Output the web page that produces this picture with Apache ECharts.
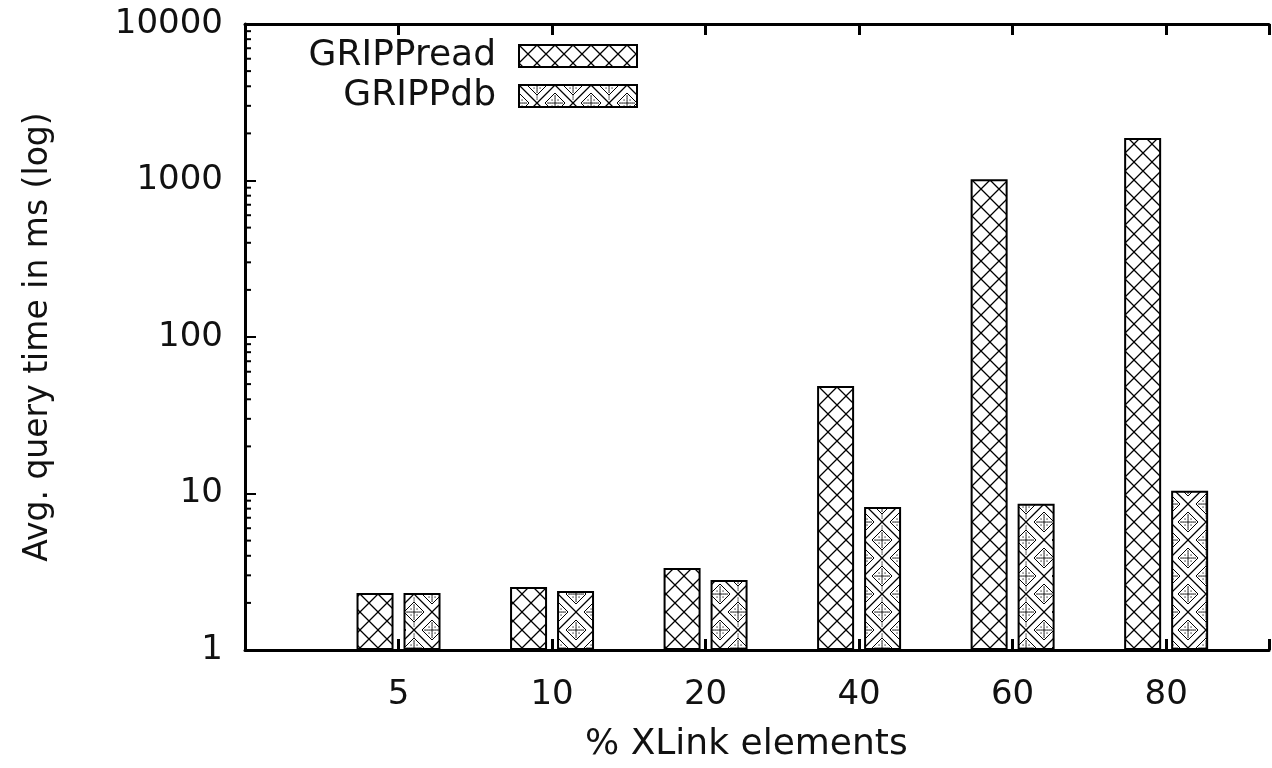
<!DOCTYPE html>
<html>
<head>
<meta charset="utf-8">
<script src="https://cdn.jsdelivr.net/npm/echarts@6/dist/echarts.min.js"></script>
<style>
html,body{margin:0;padding:0;background:#fff;}
#main{width:1272px;height:768px;}
</style>
</head>
<body>
<div id="main"></div>
<script>
const categories = ['5', '10', '20', '40', '60', '80'];
const gripRead = [2.31, 2.53, 3.34, 48.6, 1020, 1870];
const gripDb = [2.31, 2.38, 2.80, 8.2, 8.6, 10.4];
const yTickLabels = ['1', '10', '100', '1000', '10000'];
const minorTicks = [2,3,4,5,6,7,8,9,20,30,40,50,60,70,80,90,200,300,400,500,600,700,800,900,2000,3000,4000,5000,6000,7000,8000,9000];

const FONT = '"DejaVu Sans", "Liberation Sans", Arial, sans-serif';
const FS = 34;

function patternRead() {
  const s = 18;
  const c = document.createElement('canvas');
  c.width = s; c.height = s;
  const g = c.getContext('2d');
  g.fillStyle = '#fff'; g.fillRect(0, 0, s, s);
  g.strokeStyle = '#000'; g.lineWidth = 1.3;
  g.beginPath();
  g.moveTo(-2, -2); g.lineTo(s + 2, s + 2);
  g.moveTo(s + 2, -2); g.lineTo(-2, s + 2);
  g.stroke();
  return c;
}
function patternDb() {
  const s = 36;
  const c = document.createElement('canvas');
  c.width = s; c.height = s;
  const g = c.getContext('2d');
  g.fillStyle = '#fff'; g.fillRect(0, 0, s, s);
  g.strokeStyle = '#000'; g.fillStyle = '#000'; g.lineWidth = 1.3;
  g.beginPath();
  g.moveTo(-2, -2); g.lineTo(s + 2, s + 2);
  g.moveTo(s + 2, -2); g.lineTo(-2, s + 2);
  g.stroke();
  const centers = [[s/2, 0], [0, s/2], [s, s/2], [s/2, s]];
  centers.forEach(([cx, cy]) => {
    const r = 10;
    g.lineWidth = 1;
    g.beginPath();
    g.moveTo(cx, cy - r); g.lineTo(cx + r, cy); g.lineTo(cx, cy + r); g.lineTo(cx - r, cy); g.closePath();
    g.stroke();
    for (let k = -7; k <= 7; k += 2) {
      g.fillRect(cx + k - 0.6, cy - 0.6, 1.3, 1.3);
      g.fillRect(cx - 0.6, cy + k - 0.6, 1.3, 1.3);
    }
    for (let a = -6; a <= 6; a += 3) {
      for (let b = -6; b <= 6; b += 3) {
        if (Math.abs(a) + Math.abs(b) < 8 && a !== 0 && b !== 0) g.fillRect(cx + a - 0.5, cy + b - 0.5, 1.1, 1.1);
      }
    }
  });
  for (let k = 4; k <= 8; k += 2) {
    g.fillRect(s/2 - 0.5, s/2 - k - 0.5, 1.1, 1.1);
    g.fillRect(s/2 - 0.5, s/2 + k - 0.5, 1.1, 1.1);
  }
  return c;
}

const chart = echarts.init(document.getElementById('main'), null, {renderer: 'canvas'});
const axisLineStyle = {color: '#000', width: 3};
const option = {
  animation: false,
  backgroundColor: '#fff',
  title: {
    text: '% XLink elements',
    left: 585, top: 727, padding: 0,
    textStyle: {fontSize: 36, fontWeight: 'normal', color: '#111', fontFamily: FONT}
  },
  legend: [
    {data: ['GRIPPread'], right: 629, top: 33, align: 'right', orient: 'vertical',
     itemWidth: 118, itemHeight: 22, icon: 'rect', selectedMode: false,
     textStyle: {fontSize: 36, color: '#111', fontFamily: FONT, padding: [0, 18, 0, 0]}},
    {data: ['GRIPPdb'], right: 629, top: 73, align: 'right', orient: 'vertical',
     itemWidth: 118, itemHeight: 22, icon: 'rect', selectedMode: false,
     textStyle: {fontSize: 36, color: '#111', fontFamily: FONT, padding: [0, 18, 0, 0]}}
  ],
  grid: {left: 245, top: 24, right: 0, height: 626, containLabel: false},
  xAxis: [
    {type: 'value', min: 0, max: 6.67, interval: 1, position: 'bottom',
     axisLine: {lineStyle: axisLineStyle},
     axisTick: {inside: true, length: 11, lineStyle: {color: '#000', width: 3}},
     axisLabel: {formatter: v => (v >= 1 && v <= categories.length) ? categories[v - 1] : '',
                 fontSize: FS, color: '#111', margin: 28, fontFamily: FONT},
     splitLine: {show: false}},
    {type: 'value', min: 0, max: 6.67, interval: 1, position: 'top',
     axisLine: {lineStyle: axisLineStyle},
     axisTick: {inside: true, length: 11, lineStyle: {color: '#000', width: 3}},
     axisLabel: {show: false},
     splitLine: {show: false}}
  ],
  yAxis: {
    type: 'log', logBase: 10, min: 1, max: 10000,
    axisLine: {show: true, lineStyle: axisLineStyle},
    axisTick: {show: true, inside: true, length: 11, lineStyle: {color: '#000', width: 2}},
    axisLabel: {fontSize: FS, color: '#111', margin: 22, fontFamily: FONT,
                formatter: v => { const i = Math.round(Math.log10(v)); return yTickLabels[i] !== undefined ? yTickLabels[i] : ''; }},
    splitLine: {show: false},
    name: 'Avg. query time in ms (log)', nameLocation: 'middle', nameGap: 190,
    nameTextStyle: {fontSize: 33, color: '#111', fontFamily: FONT}
  },
  series: [
    {name: 'GRIPPread', type: 'bar', xAxisIndex: 0, barWidth: 37, barGap: '27%',
     data: categories.map((c, i) => [i + 1, gripRead[i]]),
     itemStyle: {color: {image: patternRead(), repeat: 'repeat'}, borderColor: '#000', borderWidth: 2}},
    {name: 'GRIPPdb', type: 'bar', xAxisIndex: 0, barWidth: 37, barGap: '27%',
     data: categories.map((c, i) => [i + 1, gripDb[i]]),
     itemStyle: {color: {image: patternDb(), repeat: 'repeat'}, borderColor: '#000', borderWidth: 2}},
    {name: 'minor', type: 'custom', xAxisIndex: 0, silent: true,
     data: minorTicks.map(v => [0, v]),
     encode: {x: 0, y: 1},
     renderItem: (params, api) => {
       const p = api.coord([0, api.value(1)]);
       return {type: 'line', shape: {x1: p[0], y1: p[1], x2: p[0] + 6, y2: p[1]},
               style: {stroke: '#000', lineWidth: 2}};
     }}
  ]
};
chart.setOption(option);
</script>
</body>
</html>
